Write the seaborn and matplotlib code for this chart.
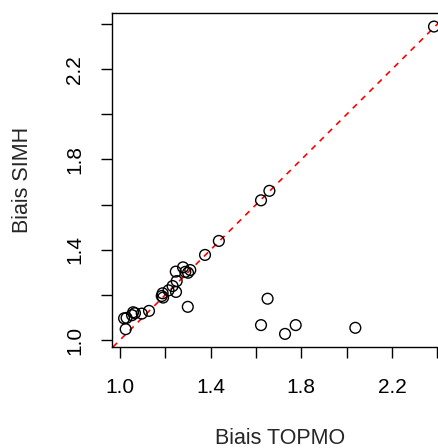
import matplotlib
matplotlib.use("Agg")
import matplotlib.pyplot as plt
import seaborn as sns
import pandas as pd

# values (bias TOPMO vs bias SIMH)
biais_topmo = [2.385, 1.659, 1.622, 1.436, 1.375, 1.278, 1.246, 1.310, 1.300, 1.288,
               1.250, 1.232, 1.247, 1.214, 1.188, 1.184, 1.190, 1.299, 1.128, 1.096,
               1.058, 1.066, 1.053, 1.029, 1.018, 1.025, 1.651, 1.622, 1.775, 1.728,
               2.038]
biais_simh = [2.389, 1.661, 1.619, 1.439, 1.377, 1.322, 1.303, 1.310, 1.298, 1.302,
              1.261, 1.239, 1.213, 1.220, 1.207, 1.195, 1.188, 1.147, 1.129, 1.117,
              1.123, 1.119, 1.110, 1.098, 1.096, 1.048, 1.183, 1.066, 1.066, 1.027,
              1.054]
tick_values = [1.0, 1.2, 1.4, 1.6, 1.8, 2.0, 2.2, 2.4]
tick_labels = ["1.0", "", "1.4", "", "1.8", "", "2.2", ""]

df = pd.DataFrame({"topmo": biais_topmo, "simh": biais_simh})

sns.set_style("ticks")
plt.rcParams["font.family"] = ["Liberation Sans", "DejaVu Sans"]

W, H = 438, 448
fig = plt.figure(figsize=(W / 100, H / 100), dpi=100)
left, right, top, bottom = 112, 447.6, 13, 347
ax = fig.add_axes([left / W, 1 - bottom / H, (right - left) / W, (bottom - top) / H])

sns.scatterplot(data=df, x="topmo", y="simh", ax=ax, marker="o", s=60,
                facecolor="none", edgecolor="black", linewidth=1.0, zorder=3)
# 1:1 line
ax.axline((1, 1), slope=1, color="red", linestyle=(0, (3.5, 3.5)), linewidth=1.2, zorder=2)

ax.set_xlim(0.9647, 2.445)
ax.set_ylim(0.969, 2.449)
ax.set_xticks(tick_values)
ax.set_xticklabels(tick_labels)
ax.set_yticks(tick_values)
ax.set_yticklabels(tick_labels, rotation=90, va="center")
ax.tick_params(direction="out", length=8, width=1, colors="black", labelsize=15, pad=14)
ax.tick_params(axis="y", pad=12)
for sp in ax.spines.values():
    sp.set_visible(True)
    sp.set_linewidth(1)
    sp.set_color("black")

ax.set_xlabel("Biais TOPMO", fontsize=15.5)
ax.set_ylabel("Biais SIMH", fontsize=15.5)
ax.xaxis.set_label_coords(0.5, (bottom - 438) / (bottom - top))
ax.xaxis.label.set_va("center")
ax.yaxis.set_label_coords((22 - left) / (right - left), 0.5)
ax.yaxis.label.set_va("center")

fig.savefig("out.png", dpi=100)
plt.close(fig)
